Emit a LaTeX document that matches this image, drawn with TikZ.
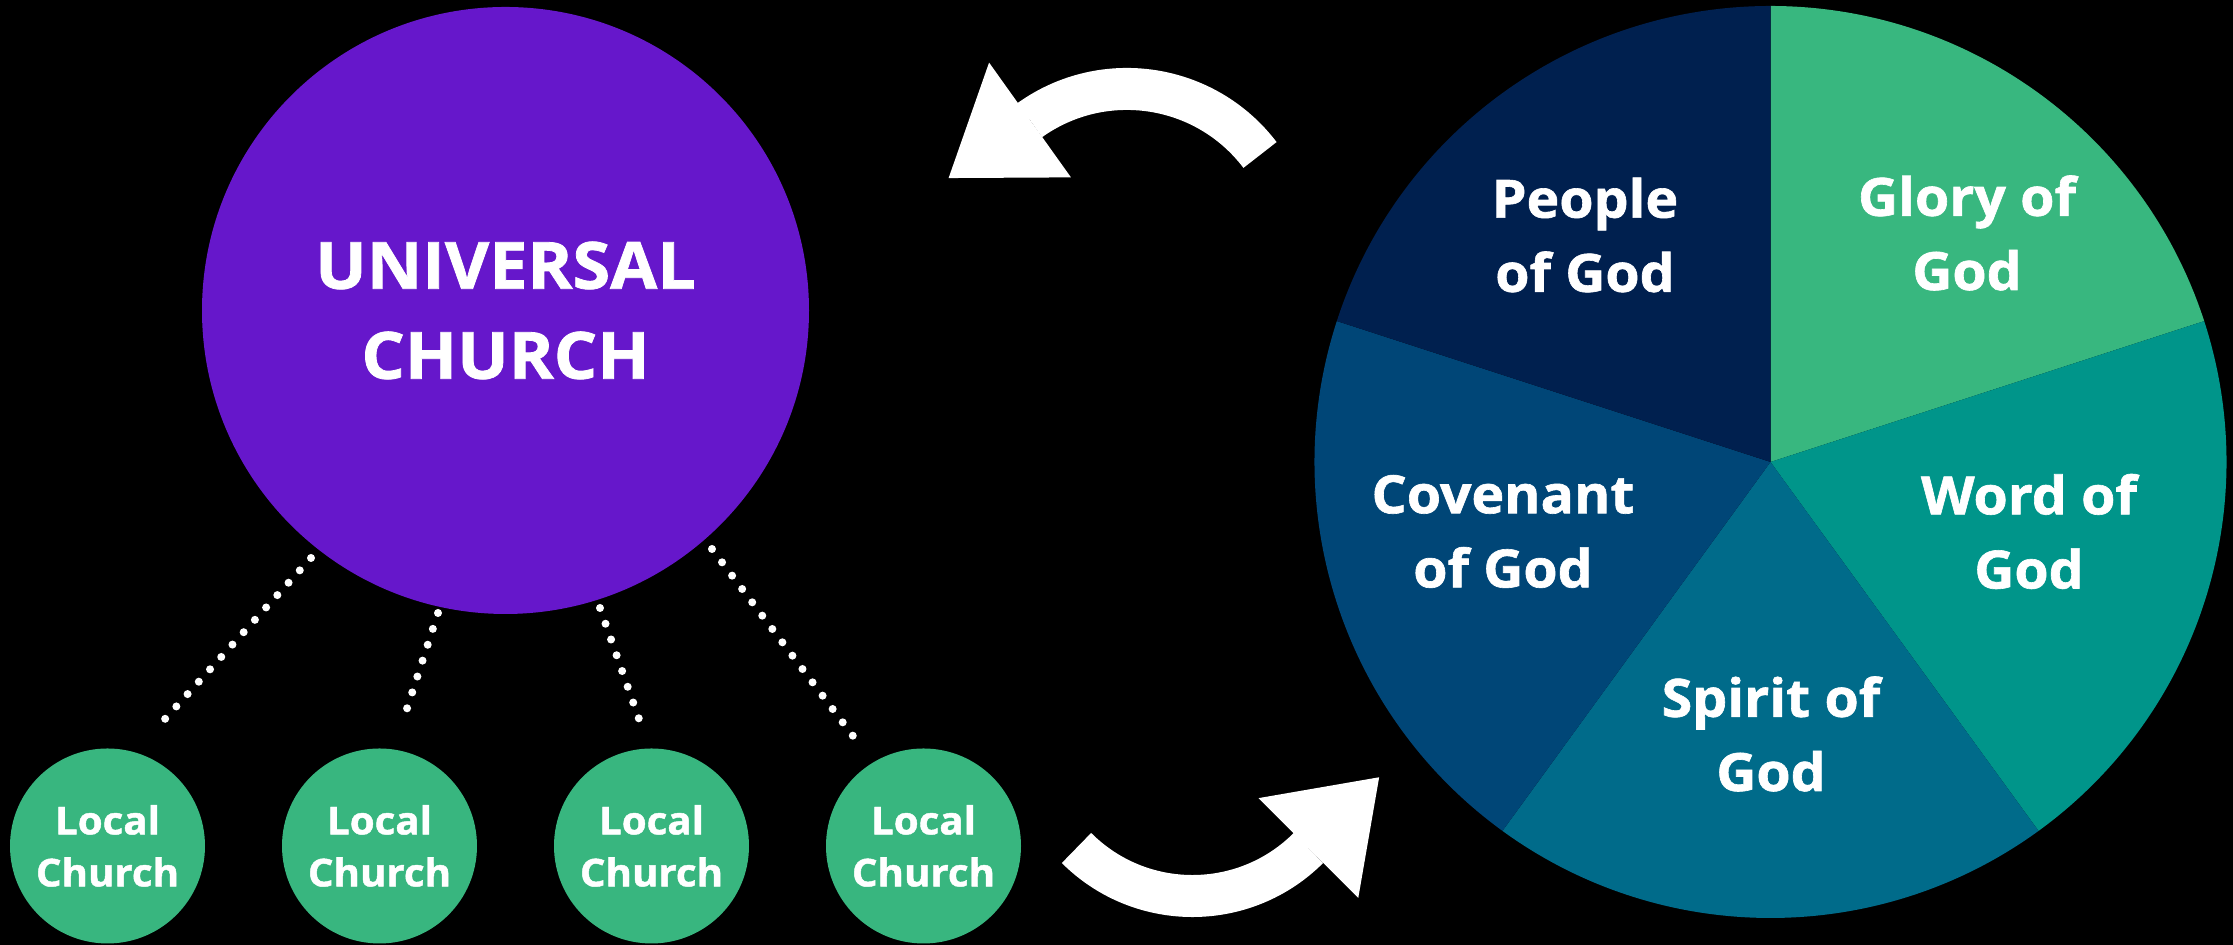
\documentclass[tikz,border=0pt]{standalone}
\usepackage{fontspec}
\setmainfont{Open Sans}[BoldFeatures={FakeBold=1.2, FakeStretch=1.05}]
\usepackage{xcolor}
\usepackage{tikz}
\usetikzlibrary{positioning,arrows.meta}

\definecolor{ucpurple}{HTML}{6617CB}
\definecolor{lcgreen}{HTML}{38B67F}
\definecolor{glorycol}{HTML}{38B77F}
\definecolor{wordcol}{HTML}{00958A}
\definecolor{spiritcol}{HTML}{006B8A}
\definecolor{covenantcol}{HTML}{004677}
\definecolor{peoplecol}{HTML}{00204F}

\begin{document}
\begin{tikzpicture}[node distance=2.72cm,
    universal/.style={circle, fill=ucpurple, text=white, align=center, inner sep=0pt,
        minimum size=6.07cm, font=\bfseries\fontsize{18.5}{25.6}\selectfont},
    church/.style={circle, fill=lcgreen, text=white, align=center, inner sep=0pt,
        minimum size=1.95cm, font=\bfseries\fontsize{10.9}{14.8}\selectfont},
    wedgetext/.style={text=white, align=center, font=\bfseries\fontsize{15}{21.1}\selectfont},
    dotline/.style={white, line width=0.08cm, line cap=round, dash pattern=on 0pt off 0.167cm},
    bigarrow/.style={white, line width=0.42cm,
        -{Triangle[length=1cm, width=1.41cm, line width=0pt]}}]
        \fill[black] (0,0) rectangle (22.33,9.45);
        \useasboundingbox (0,0) rectangle (22.33,9.45);

        % universal church and the local ones
        \node[universal] (UC) at (5.055,6.345) {UNIVERSAL\\CHURCH};
        \node[church] (L1) at (1.075,0.99) {Local\\Church};
        \node[church] (L2) [right of=L1] {Local\\Church};
        \node[church] (L3) [right of=L2] {Local\\Church};
        \node[church] (L4) [right of=L3] {Local\\Church};

        \coordinate (D1a) at (3.11,3.87);  \coordinate (D1b) at (1.65,2.26);
        \coordinate (D2a) at (4.38,3.32);  \coordinate (D2b) at (4.02,2.21);
        \coordinate (D3a) at (6.00,3.37);  \coordinate (D3b) at (6.39,2.26);
        \coordinate (D4a) at (7.12,3.96);  \coordinate (D4b) at (8.53,2.09);
        \draw[dotline] (D1a) -- (D1b);
        \draw[dotline] (D2a) -- (D2b);
        \draw[dotline] (D3a) -- (D3b);
        \draw[dotline] (D4a) -- (D4b);

        % pie
        \coordinate (P) at (17.705,4.83);
        \foreach \a/\col in {90/glorycol, 18/wordcol, -54/spiritcol, -126/covenantcol, 162/peoplecol}
            \fill[\col] (P) -- ++(\a:4.56) arc[start angle=\a, delta angle=-72, radius=4.56] -- cycle;

        \node[wedgetext] (glory) at (19.67,7.12) {Glory of\\God};
        \node[wedgetext] (word) at (20.29,4.135) {Word of\\God};
        \node[wedgetext] (spirit) at (17.71,2.11) {Spirit of\\God};
        \node[wedgetext] (covenant) at (15.03,4.135) {Covenant\\of God};
        \node[wedgetext] (people) at (15.85,7.10) {People\\of God};

        % arrows between the two
        \coordinate (T1) at (12.60,7.90);
        \coordinate (T2) at (10.765,0.97);
        \draw[bigarrow] (T1) arc[start angle=37.2, end angle=125.5, radius=1.67] -- ++(215.5:1) coordinate (H1);
        \draw[bigarrow] (T2) arc[start angle=225, end angle=315, radius=1.64] -- ++(45:1) coordinate (H2);
\end{tikzpicture}
\end{document}
